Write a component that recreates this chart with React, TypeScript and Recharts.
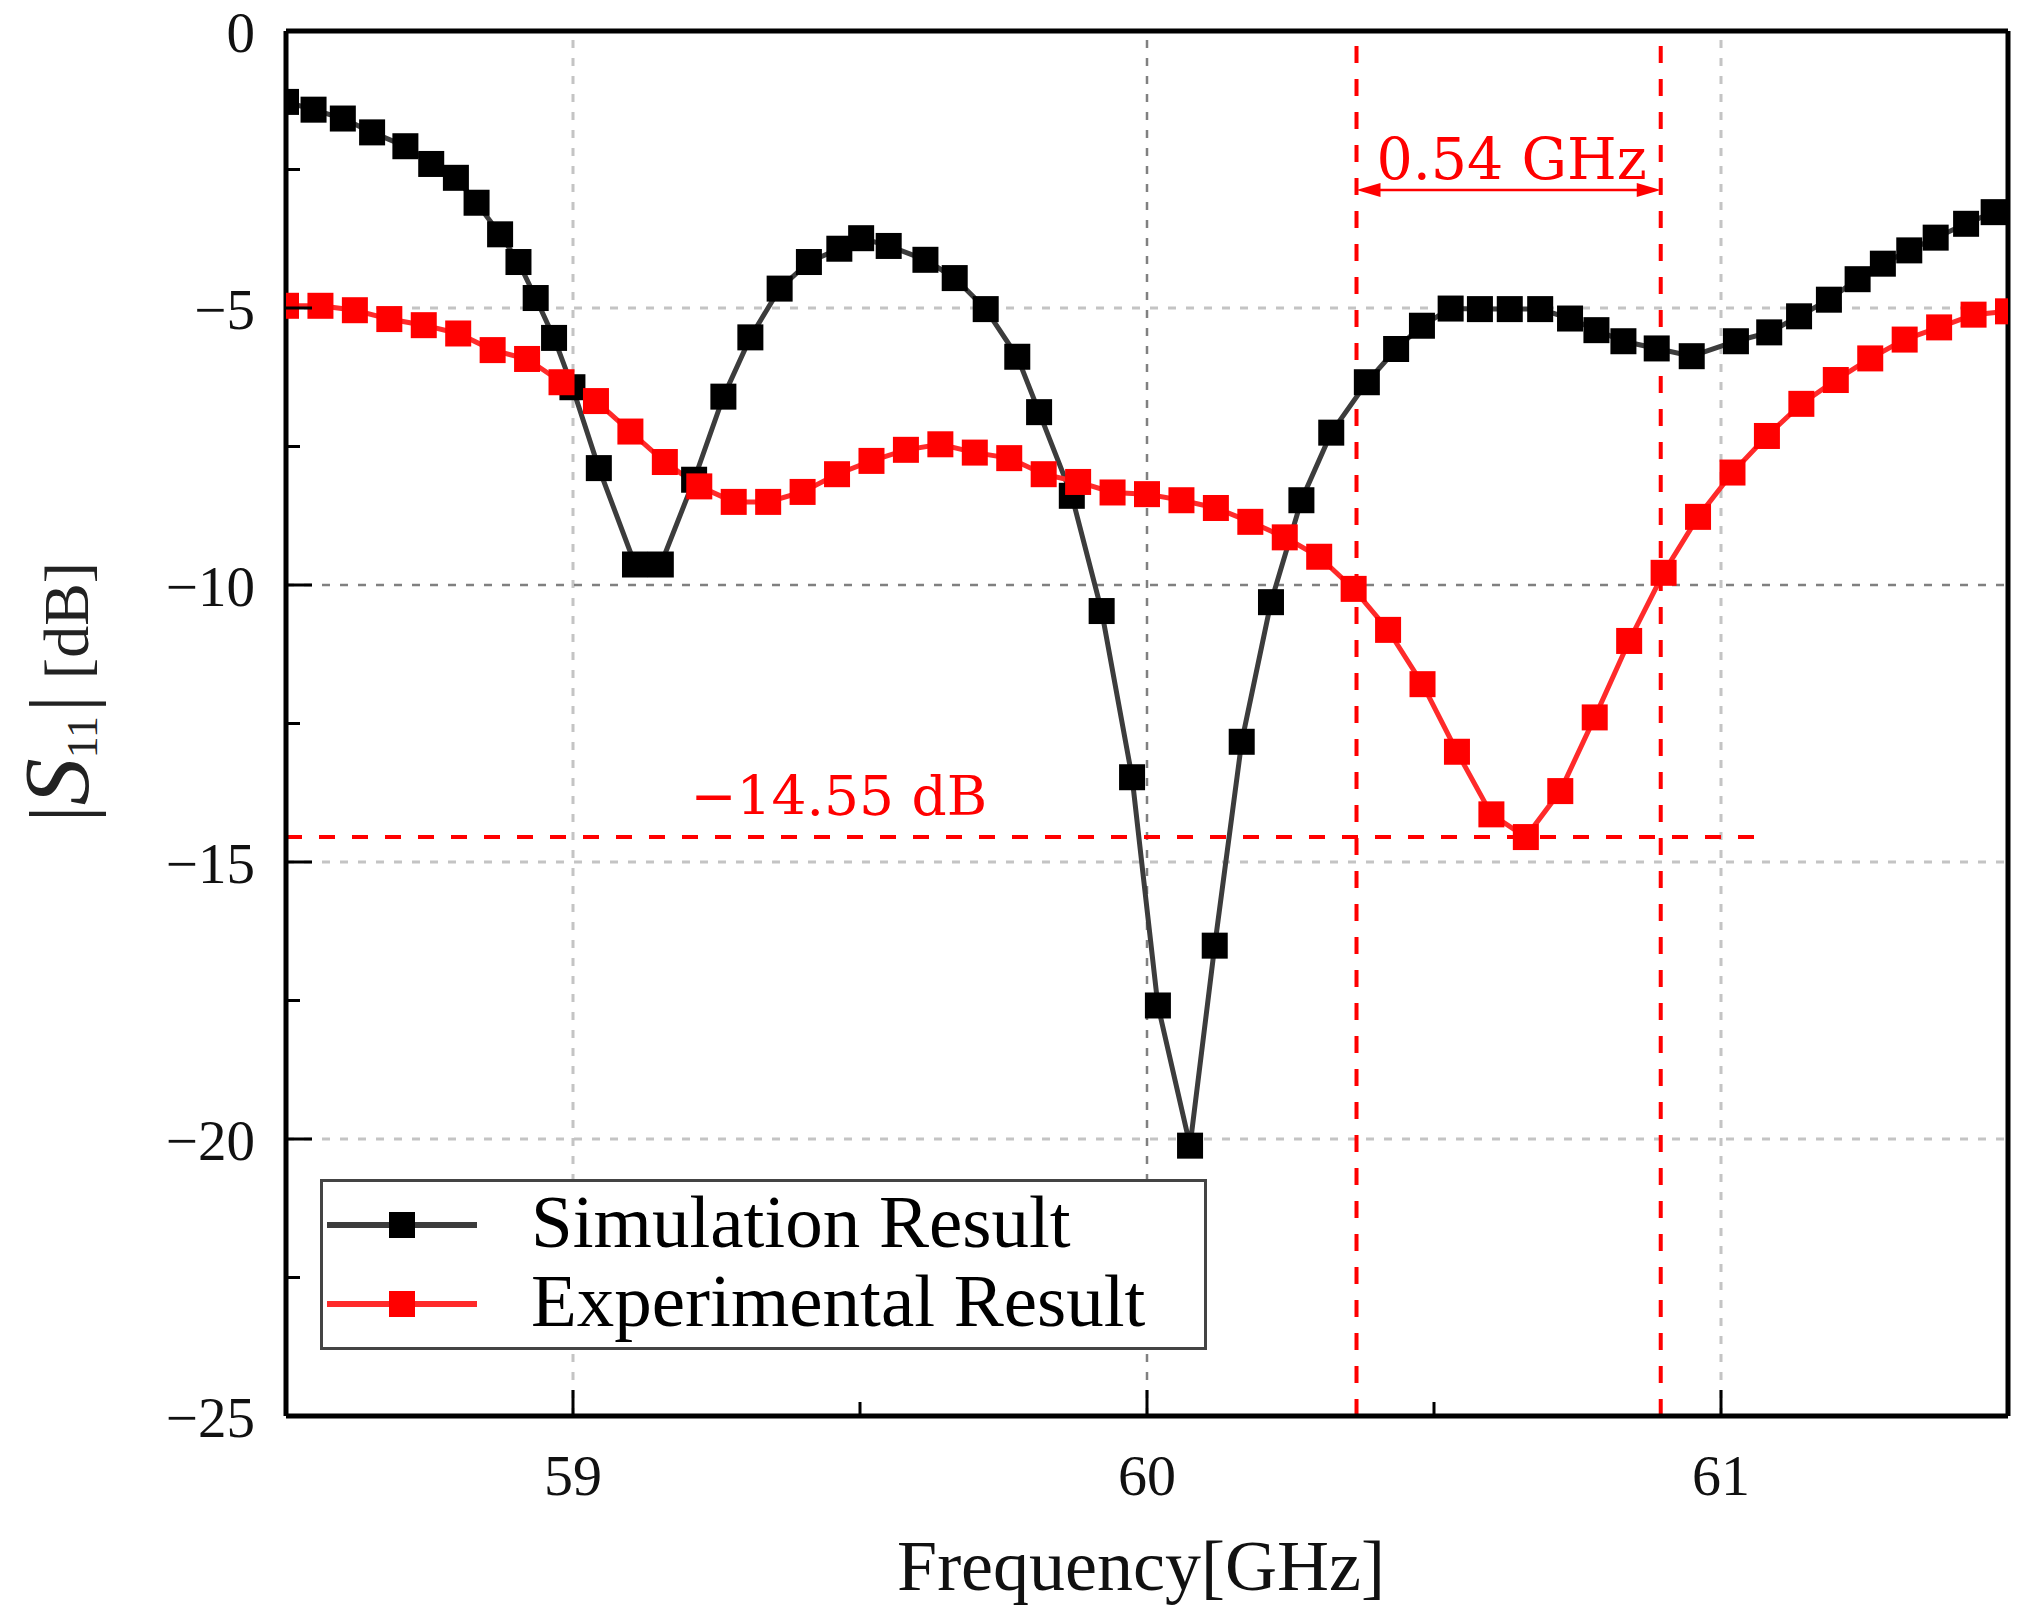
import React from 'react';
import { LineChart, Line, XAxis, YAxis, ReferenceLine, ReferenceDot, Legend, Label } from 'recharts';

// ---- data ----
const FREQ_SIM = [
  58.5, 58.548, 58.599, 58.65, 58.708, 58.753, 58.796, 58.832, 58.873, 58.905,
  58.935, 58.967, 58.999, 59.045, 59.108, 59.153, 59.211, 59.262, 59.309, 59.36,
  59.411, 59.464, 59.502, 59.55, 59.614, 59.665, 59.719, 59.774, 59.812, 59.869,
  59.921, 59.974, 60.019, 60.075, 60.118, 60.165, 60.216, 60.269, 60.321, 60.383,
  60.434, 60.479, 60.529, 60.58, 60.632, 60.685, 60.737, 60.783, 60.83, 60.888,
  60.949, 61.026, 61.084, 61.136, 61.188, 61.238, 61.282, 61.328, 61.374, 61.427,
  61.475,
];
const S11_SIM = [
  -1.28, -1.42, -1.58, -1.83, -2.08, -2.4, -2.65, -3.1, -3.67, -4.17,
  -4.82, -5.54, -6.43, -7.89, -9.63, -9.63, -8.1, -6.6, -5.53, -4.65,
  -4.17, -3.93, -3.74, -3.88, -4.13, -4.46, -5.02, -5.88, -6.88, -8.39,
  -10.47, -13.47, -17.59, -20.12, -16.51, -12.83, -10.31, -8.47, -7.25, -6.34,
  -5.74, -5.32, -5.01, -5.02, -5.02, -5.02, -5.19, -5.4, -5.6, -5.73,
  -5.87, -5.6, -5.44, -5.15, -4.85, -4.48, -4.2, -3.96, -3.73, -3.48,
  -3.27,
];
const FREQ_EXP = [
  58.5, 58.56, 58.62, 58.68, 58.74, 58.8, 58.86, 58.92, 58.98, 59.04,
  59.1, 59.16, 59.22, 59.28, 59.34, 59.4, 59.46, 59.52, 59.58, 59.64,
  59.7, 59.76, 59.82, 59.88, 59.94, 60.0, 60.06, 60.12, 60.18, 60.24,
  60.3, 60.36, 60.42, 60.48, 60.54, 60.6, 60.66, 60.72, 60.78, 60.84,
  60.9, 60.96, 61.02, 61.08, 61.14, 61.2, 61.26, 61.32, 61.38, 61.44,
  61.5,
];
const S11_EXP = [
  -4.96, -4.96, -5.04, -5.2, -5.31, -5.46, -5.76, -5.92, -6.34, -6.68,
  -7.23, -7.78, -8.22, -8.5, -8.5, -8.32, -8.0, -7.76, -7.56, -7.46,
  -7.61, -7.71, -8.0, -8.14, -8.33, -8.36, -8.47, -8.61, -8.86, -9.14,
  -9.49, -10.07, -10.81, -11.79, -13.01, -14.14, -14.55, -13.72, -12.39, -11.01,
  -9.78, -8.77, -7.97, -7.31, -6.73, -6.3, -5.91, -5.57, -5.35, -5.12,
  -5.06,
];
const SERIES_NAMES = ['Simulation Result', 'Experimental Result'];

const X_DOMAIN = [58.5, 61.5];
const Y_DOMAIN = [-25, 0];
const X_TICKS = [59, 59.5, 60, 60.5, 61];
const X_MAJOR = [59, 60, 61];
const Y_TICKS = [0, -2.5, -5, -7.5, -10, -12.5, -15, -17.5, -20, -22.5, -25];
const Y_MAJOR = [0, -5, -10, -15, -20, -25];
const X_GRID = [59, 60, 61];
const Y_GRID = [-5, -10, -15, -20];
const DARK_GRID_X = [60];
const DARK_GRID_Y = [-10];

const BAND_EDGES = [60.365, 60.895];
const BAND_ARROW_DB = -2.87;
const BAND_LABEL = '0.54 GHz';
const MIN_DB = -14.55;
const MIN_LINE_END = 61.07;
const MIN_LABEL_FREQ = 59.463;
const MIN_LABEL = '\u221214.55 dB';

const simData = FREQ_SIM.map((f, i) => ({ f, s11: S11_SIM[i] }));
const expData = FREQ_EXP.map((f, i) => ({ f, s11: S11_EXP[i] }));

// ---- styles ----
const SERIF = '"Liberation Serif", "Times New Roman", serif';
const ANNOT = '"DejaVu Serif", serif';
const RED = '#ff0000';
const RED_LINE = '#ff2a2a';
const SIM_LINE = '#3c3c3c';
const MARK = 26;

const fmtY = (v: number) => (v < 0 ? '\u2212' + Math.abs(v) : String(v));

const XTick = (props: any) => {
  const { x, y, payload } = props;
  const major = X_MAJOR.includes(payload.value);
  return (
    <g>
      <line x1={x} x2={x} y1={y} y2={y - (major ? 26 : 14)} stroke="#000" strokeWidth={3} />
      {major && (
        <text x={x} y={y + 79} textAnchor="middle" fontFamily={SERIF} fontSize={58} fill="#111">
          {payload.value}
        </text>
      )}
    </g>
  );
};

const YTick = (props: any) => {
  const { x, y, payload } = props;
  const major = Y_MAJOR.includes(payload.value);
  return (
    <g>
      <line x1={x} x2={x + (major ? 26 : 14)} y1={y} y2={y} stroke="#000" strokeWidth={3} />
      {major && (
        <text x={x - 31} y={y + 21} textAnchor="end" fontFamily={SERIF} fontSize={57} fill="#111">
          {fmtY(payload.value)}
        </text>
      )}
    </g>
  );
};

const SimDot = (p: any) => (
  <rect key={`s${p.index}`} x={p.cx - MARK / 2} y={p.cy - MARK / 2} width={MARK} height={MARK} fill="#000" />
);
const ExpDot = (p: any) => (
  <rect key={`e${p.index}`} x={p.cx - MARK / 2} y={p.cy - MARK / 2} width={MARK} height={MARK} fill={RED} />
);

const ArrowShape = (p: any) => {
  const { x1, y1, x2 } = p;
  const L = 24;
  const H = 7;
  const mid = (x1 + x2) / 2;
  return (
    <g>
      <line x1={x1 + L - 2} x2={x2 - L + 2} y1={y1} y2={y1} stroke={RED} strokeWidth={2.5} />
      <polygon points={`${x1},${y1} ${x1 + L},${y1 - H} ${x1 + L},${y1 + H}`} fill={RED} />
      <polygon points={`${x2},${y1} ${x2 - L},${y1 - H} ${x2 - L},${y1 + H}`} fill={RED} />
      <text x={mid + 3} y={y1 - 11} textAnchor="middle" fontFamily={ANNOT} fontSize={57} fill={RED}>
        {BAND_LABEL}
      </text>
    </g>
  );
};

const MinLabelShape = (p: any) => (
  <text x={p.cx} y={p.cy - 22} textAnchor="middle" fontFamily={ANNOT} fontSize={55} fill={RED}>
    {MIN_LABEL}
  </text>
);

const XLabel = (p: any) => {
  const vb = p.viewBox || { x: 286, y: 1416, width: 1722 };
  return (
    <text x={vb.x + vb.width / 2 - 6} y={vb.y + 174} textAnchor="middle" fontFamily={SERIF} fontSize={72} fill="#111">
      Frequency[GHz]
    </text>
  );
};

const YLabel = () => {
  const cx = 88;
  const cy = 692;
  return (
    <text x={cx} y={cy} transform={`rotate(-90 ${cx} ${cy})`} textAnchor="middle" fontFamily={SERIF} fill="#222">
      <tspan fontSize={84}>|</tspan>
      <tspan fontSize={94} fontStyle="italic">S</tspan>
      <tspan fontSize={44} dy={9}>11</tspan>
      <tspan fontSize={84} dy={-9} dx={4}>|</tspan>
      <tspan fontSize={64} dx={16}>[dB]</tspan>
    </text>
  );
};

const LegendBox = () => {
  const rows = [
    { name: SERIES_NAMES[0], line: SIM_LINE, mark: '#000', cy: 46 },
    { name: SERIES_NAMES[1], line: RED_LINE, mark: RED, cy: 125 },
  ];
  return (
    <svg width={887} height={171} style={{ display: 'block' }}>
      <rect x={1.5} y={1.5} width={884} height={168} fill="#fff" stroke="#444" strokeWidth={3} />
      {rows.map((r) => (
        <g key={r.name}>
          <line x1={7} x2={157} y1={r.cy} y2={r.cy} stroke={r.line} strokeWidth={6} />
          <rect x={82 - 13} y={r.cy - 13} width={26} height={26} fill={r.mark} />
          <text x={211} y={r.cy + 22} fontFamily={SERIF} fontSize={75} fill="#000">
            {r.name}
          </text>
        </g>
      ))}
    </svg>
  );
};

export default function App() {
  return (
    <div style={{ position: 'absolute', left: 0, top: 0, width: 2039, height: 1619, background: '#fff' }}>
      <LineChart width={2039} height={1619} margin={{ top: 31, right: 31, bottom: 53, left: 0 }}>
        <XAxis
          type="number"
          dataKey="f"
          domain={X_DOMAIN}
          ticks={X_TICKS}
          interval={0}
          allowDataOverflow
          tick={(p: any) => <XTick {...p} />}
          tickLine={false}
          tickSize={0}
          tickMargin={0}
          axisLine={{ stroke: '#000', strokeWidth: 5 }}
          height={150}
        >
          <Label content={XLabel} />
        </XAxis>
        <YAxis
          type="number"
          dataKey="s11"
          domain={Y_DOMAIN}
          ticks={Y_TICKS}
          interval={0}
          allowDataOverflow
          tick={(p: any) => <YTick {...p} />}
          tickLine={false}
          tickSize={0}
          tickMargin={0}
          axisLine={{ stroke: '#000', strokeWidth: 5 }}
          width={286}
        >
          <Label content={YLabel} />
        </YAxis>

        {X_GRID.map((v) => (
          <ReferenceLine
            key={`gx${v}`}
            x={v}
            stroke={DARK_GRID_X.includes(v) ? '#808080' : '#c4c4c4'}
            strokeWidth={DARK_GRID_X.includes(v) ? 2.5 : 3}
            strokeDasharray="8 10"
          />
        ))}
        {Y_GRID.map((v) => (
          <ReferenceLine
            key={`gy${v}`}
            y={v}
            stroke={DARK_GRID_Y.includes(v) ? '#808080' : '#c4c4c4'}
            strokeWidth={DARK_GRID_Y.includes(v) ? 2.5 : 3}
            strokeDasharray="8 10"
          />
        ))}

        <Line
          data={simData}
          dataKey="s11"
          name={SERIES_NAMES[0]}
          type="linear"
          stroke={SIM_LINE}
          strokeWidth={5}
          dot={SimDot}
          activeDot={false}
          isAnimationActive={false}
        />
        <Line
          data={expData}
          dataKey="s11"
          name={SERIES_NAMES[1]}
          type="linear"
          stroke={RED_LINE}
          strokeWidth={5}
          dot={ExpDot}
          activeDot={false}
          isAnimationActive={false}
        />

        {BAND_EDGES.map((v) => (
          <ReferenceLine key={`band${v}`} x={v} stroke={RED} strokeWidth={4} strokeDasharray="17 16" />
        ))}
        <ReferenceLine
          segment={[
            { x: BAND_EDGES[0], y: BAND_ARROW_DB },
            { x: BAND_EDGES[1], y: BAND_ARROW_DB },
          ]}
          shape={ArrowShape}
        />
        <ReferenceLine
          segment={[
            { x: X_DOMAIN[0], y: MIN_DB },
            { x: MIN_LINE_END, y: MIN_DB },
          ]}
          stroke={RED}
          strokeWidth={4}
          strokeDasharray="16 17"
        />
        <ReferenceDot x={MIN_LABEL_FREQ} y={MIN_DB} r={0} shape={MinLabelShape} />

        <ReferenceLine y={Y_DOMAIN[1]} stroke="#000" strokeWidth={5} />
        <ReferenceLine x={X_DOMAIN[1]} stroke="#000" strokeWidth={5} />

        <Legend
          layout="vertical"
          align="center"
          verticalAlign="middle"
          wrapperStyle={{ left: 320, top: 1179, width: 887, height: 171 }}
          content={LegendBox}
        />
      </LineChart>
    </div>
  );
}
